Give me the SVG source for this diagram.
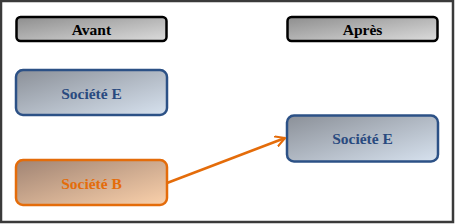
<svg xmlns="http://www.w3.org/2000/svg" width="455" height="224" viewBox="0 0 455 224">
<defs>
<linearGradient id="gGray" x1="0" y1="0" x2="1" y2="1">
<stop offset="0" stop-color="#8e8e8e"/><stop offset="1" stop-color="#dcdcdc"/>
</linearGradient>
<linearGradient id="gBlue" x1="0" y1="0" x2="1" y2="1">
<stop offset="0" stop-color="#8b9098"/><stop offset="1" stop-color="#d7e2ef"/>
</linearGradient>
<linearGradient id="gOrange" x1="0" y1="0" x2="1" y2="1">
<stop offset="0" stop-color="#a08474"/><stop offset="1" stop-color="#fbd1ab"/>
</linearGradient>
<marker id="arr" viewBox="0 0 12 12" refX="10" refY="6" markerWidth="12" markerHeight="12" markerUnits="userSpaceOnUse" orient="auto">
<path d="M1,1 L10,6 L1,11" fill="none" stroke="#e46c0a" stroke-width="2.2" stroke-linecap="round" stroke-linejoin="round"/>
</marker>
<style>
.t{font-family:"Liberation Serif","Times New Roman",serif;font-weight:bold;font-size:15.5px;text-anchor:middle;dominant-baseline:central}
.hdr{fill:url(#gGray);stroke:#000;stroke-width:2.5}
.blue{fill:url(#gBlue);stroke:#2c5186;stroke-width:2.5}
.org{fill:url(#gOrange);stroke:#e46c0a;stroke-width:2.5}
</style>
</defs>
<rect x="1" y="1" width="452" height="221" fill="#fff" stroke="#3a3a3a" stroke-width="2.5"/>
<g id="avant">
<rect class="hdr" x="16.5" y="17" width="150" height="24" rx="4"/>
<text class="t" x="91.5" y="29" fill="#000">Avant</text>
</g>
<g id="apres">
<rect class="hdr" x="287.5" y="17" width="150" height="24" rx="4"/>
<text class="t" x="362.5" y="29" fill="#000">Après</text>
</g>
<g id="societeE1">
<rect class="blue" x="16" y="70" width="151" height="45" rx="7"/>
<text class="t" x="91.5" y="93" fill="#2a4a7f">Société E</text>
</g>
<g id="societeB">
<rect class="org" x="16" y="160" width="151" height="45" rx="7"/>
<text class="t" x="91.5" y="183" fill="#e46c0a">Société B</text>
</g>
<g id="societeE2">
<rect class="blue" x="287" y="115.5" width="151" height="46" rx="7"/>
<text class="t" x="362.5" y="138.5" fill="#2a4a7f">Société E</text>
</g>
<g id="connectors">
<line x1="167" y1="183" x2="285" y2="138" stroke="#e46c0a" stroke-width="2.5" marker-end="url(#arr)"/>
</g>
</svg>
